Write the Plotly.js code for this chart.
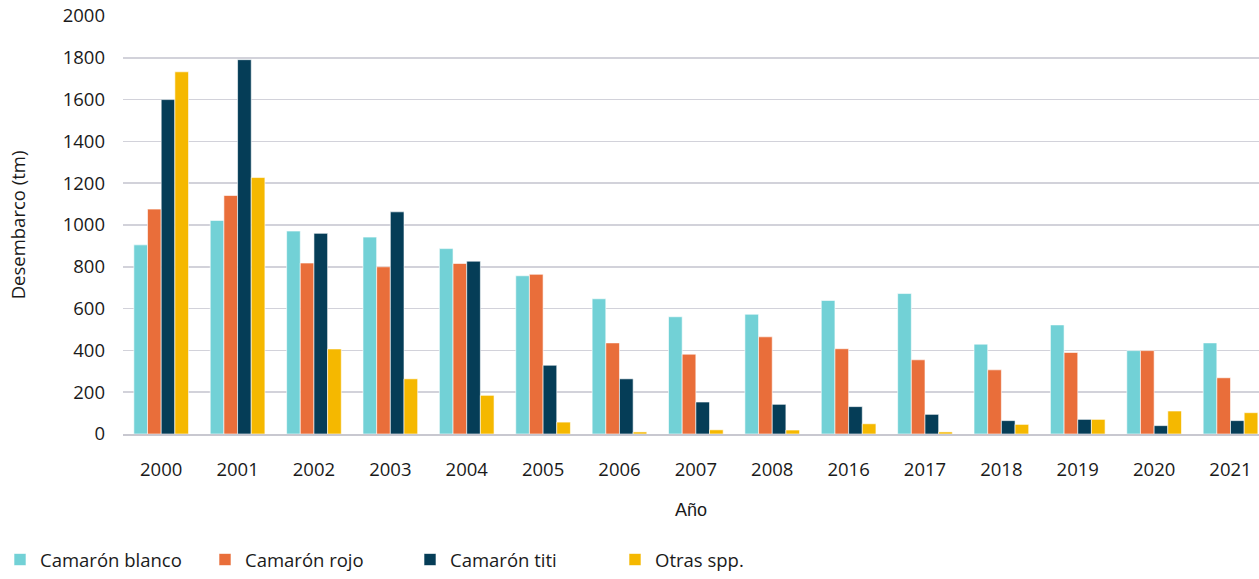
<!DOCTYPE html>
<html>
<head>
<meta charset="utf-8">
<script src="https://cdn.plot.ly/plotly-3.0.1.min.js"></script>
<style>html,body{margin:0;padding:0;background:#fff;}#chart{width:1259px;height:579px;}</style>
</head>
<body>
<div id="chart"></div>
<script>
const years = ["2000","2001","2002","2003","2004","2005","2006","2007","2008","2016","2017","2018","2019","2020","2021"];
const camaronBlanco = [905,1022,971,942,887,757,647,561,573,639,672,430,522,399,436];
const camaronRojo   = [1076,1141,818,800,816,764,436,382,465,408,355,307,390,399,269];
const camaronTiti   = [1600,1791,960,1063,827,329,264,153,142,131,94,64,70,40,64];
const otrasSpp      = [1733,1227,407,264,185,57,10,20,19,49,10,46,70,110,102];
const seriesNames = ["Camarón blanco","Camarón rojo","Camarón titi","Otras spp."];
const seriesColors = ["#72D1D6","#E96E3A","#053D57","#F5B800"];
const yTicks = [0,200,400,600,800,1000,1200,1400,1600,1800,2000];

const values = [camaronBlanco, camaronRojo, camaronTiti, otrasSpp];
const traces = values.map((v,i)=>({
  type:'bar', name: seriesNames[i], x: years, y: v,
  marker:{color: seriesColors[i], line:{color:'rgba(255,255,255,0.6)', width:1}},
  hoverinfo:'x+y+name'
}));

const font = "'Open Sans', 'Noto Sans', sans-serif";
const layout = {
  width:1259, height:579,
  margin:{l:123, r:0, t:15.5, b:144.7, pad:0},
  paper_bgcolor:'#fff', plot_bgcolor:'#fff',
  barmode:'group', bargap:0.284, bargroupgap:0,
  font:{family: font, size:19, color:'#1a1a1a'},
  xaxis:{
    type:'category', range:[-0.5, 14.373],
    showgrid:false, showline:true, linecolor:'#c8c8d0', linewidth:1.5,
    ticks:'', ticklabelstandoff:18,
    tickfont:{family:font, size:18.5, color:'#1a1a1a'},
    title:{text:'Año', font:{family:"'Liberation Sans', Arial, sans-serif", size:18, color:'#1a1a1a'}, standoff:23}
  },
  yaxis:{
    range:[0,2000], tickvals:yTicks, ticktext:yTicks.map(String),
    showgrid:true, gridcolor:'#d2d2da', gridwidth:1.5, zeroline:false,
    ticks:'', ticklabelstandoff:17,
    tickfont:{family:font, size:18.5, color:'#1a1a1a'},
    title:{text:'Desembarco (tm)', font:{family:font, size:18.5, color:'#1a1a1a'}, standoff:32}
  },
  showlegend:true,
  legend:{orientation:'h', xref:'container', yref:'container', x:-0.004, xanchor:'left', y:0, yanchor:'bottom',
    font:{family:font, size:18.5, color:'#1a1a1a'}, itemwidth:30, entrywidth:160, entrywidthmode:'pixels',
    traceorder:'normal', bgcolor:'rgba(0,0,0,0)'}
};
Plotly.newPlot('chart', traces, layout, {displayModeBar:false, staticPlot:true});
</script>
</body>
</html>
